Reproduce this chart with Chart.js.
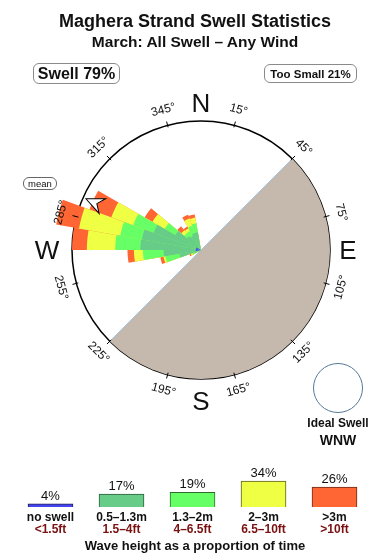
<!DOCTYPE html>
<html>
<head>
<meta charset="utf-8">
<script src="https://cdn.jsdelivr.net/npm/chart.js@4.4.1/dist/chart.umd.min.js"></script>
<style>
  body { margin: 0; background: #fff; font-family: "Liberation Sans", Arial, Helvetica, sans-serif; color: #111; }
  #wrap { position: relative; width: 390px; height: 560px; overflow: hidden; }
  canvas { position: absolute; left: 0; }
  #rose { top: 0; }
  #legendChart { top: 458px; }
  .line { position: absolute; left: 0; width: 390px; text-align: center; font-weight: bold; white-space: nowrap; }
  .box { position: absolute; display: flex; align-items: center; justify-content: center;
         border: 1px solid #8a8a8a; border-radius: 6px; font-weight: bold; box-sizing: border-box; white-space: nowrap; }
  #ideal { position: absolute; left: 313px; top: 363px; width: 50px; height: 50px; box-sizing: border-box;
           border: 1px solid #557799; border-radius: 50%; }
  .ideal { position: absolute; left: 288px; width: 100px; text-align: center; font-weight: bold; }
</style>
</head>
<body>
<div id="wrap">
  <canvas id="rose" width="390" height="560"></canvas>
  <canvas id="legendChart" width="390" height="82"></canvas>

  <div class="line" style="top:12px;font-size:18px;line-height:18px;">Maghera Strand Swell Statistics</div>
  <div class="line" style="top:34px;font-size:15.5px;line-height:16px;">March: All Swell – Any Wind</div>

  <div class="box" style="left:33px;top:63px;width:87px;height:21px;font-size:16px;">Swell 79%</div>
  <div class="box" style="left:264px;top:64px;width:93px;height:19px;font-size:11.5px;">Too Small 21%</div>
  <div class="box" style="left:23px;top:177px;width:34px;height:13px;font-size:9.5px;font-weight:normal;border-color:#666;">mean</div>

  <div id="ideal"></div>
  <div class="ideal" style="top:416px;font-size:12px;line-height:14px;">Ideal Swell</div>
  <div class="ideal" style="top:432px;font-size:14px;line-height:16px;">WNW</div>

  <div class="line" style="top:539px;font-size:13px;line-height:14px;">Wave height as a proportion of time</div>
</div>

<script>
// swell rose: direction bins (compass degrees, start of each 10 degree bin)
const directions = [240, 250, 260, 270, 280, 290, 300, 310, 320, 330, 340];
// frequency per height band in each direction (rose units, outer circle = 10)
const noSwell   = [0,    0,    0.4,  0.4,  0.4,  0.4,  0,    0,    0,    0,    0];
const band05_13 = [0.5,  1.7,  2.9,  4.7,  4.65, 3.9,  2.3,  1.4,  1.25, 1.4,  1.4];
const band13_2  = [0.2,  1.1,  1.6,  1.95, 1.7,  1.7,  0.95, 0.3,  0.45, 0.6,  0.7];
const band2_3   = [0.15, 0.15, 0.7,  2.2,  3.25, 1.8,  1.1,  0.3,  0.25, 0.6,  0.45];
const band3up   = [0.1,  0.25, 0.5,  1.15, 1.8,  1.8,  0.7,  0.4,  0.15, 0.3,  0.25];
const meanDirection = 294;
const roseMax = 10;

// compass ticks and land sector
const tickDegrees = [15, 45, 75, 105, 135, 165, 195, 225, 255, 285, 315, 345];
const compassPoints = ['N', 'E', 'S', 'W'];
const compassGap = [18, 18, 22, 25];
const landFrom = 45, landTo = 225;

// legend (wave height as proportion of time)
const legendPercent = [4, 17, 19, 34, 26];
const legendMetres = ['no swell', '0.5–1.3m', '1.3–2m', '2–3m', '>3m'];
const legendFeet = ['<1.5ft', '1.5–4ft', '4–6.5ft', '6.5–10ft', '>10ft'];

const colours = ['#4444ee', '#66cc88', '#66ff66', '#eeff44', '#ff6633'];
const borders = ['#222255', '#2d5e3c', '#2e6a2e', '#5c5c20', '#6a2a14'];
const FONT = '"Liberation Sans", Arial, Helvetica, sans-serif';

// 36 bins of 10 degrees, bin 0 starts at north
const binLabels = [];
for (let d = 0; d < 360; d += 10) binLabels.push(d + '°');

function toBins(values) {
    const out = binLabels.map(() => 0);
    directions.forEach((d, i) => { out[d / 10] = values[i]; });
    return out;
}

// cumulative radius so bands stack outward
const bands = [band05_13, band13_2, band2_3, band3up];
const stacked = [];
let running = directions.map(() => 0);
bands.forEach(b => {
    running = running.map((v, i) => v + b[i]);
    stacked.push(running.slice());
});

const rad = deg => (deg - 90) * Math.PI / 180;

const roseExtras = {
    id: 'roseExtras',
    beforeDatasetsDraw(chart) {
        const s = chart.scales.r;
        const ctx = chart.ctx;
        const cx = s.xCenter, cy = s.yCenter, R = s.drawingArea;
        ctx.save();
        ctx.beginPath();
        ctx.moveTo(cx, cy);
        ctx.arc(cx, cy, R, rad(landFrom), rad(landTo));
        ctx.closePath();
        ctx.fillStyle = '#c4b9ac';
        ctx.fill();
        ctx.beginPath();
        ctx.moveTo(cx + R * Math.cos(rad(landFrom)), cy + R * Math.sin(rad(landFrom)));
        ctx.lineTo(cx + R * Math.cos(rad(landTo)), cy + R * Math.sin(rad(landTo)));
        ctx.strokeStyle = '#a6c6e4';
        ctx.lineWidth = 1;
        ctx.stroke();
        ctx.restore();
    },
    afterDraw(chart) {
        const s = chart.scales.r;
        const ctx = chart.ctx;
        const cx = s.xCenter, cy = s.yCenter, R = s.drawingArea;
        ctx.save();

        // mean direction arrow
        ctx.save();
        ctx.translate(cx + (R - 3) * Math.cos(rad(meanDirection)), cy + (R - 3) * Math.sin(rad(meanDirection)));
        ctx.rotate(rad(meanDirection));
        ctx.beginPath();
        ctx.moveTo(0, 0);
        ctx.lineTo(-18, -8);
        ctx.lineTo(-12, 0);
        ctx.lineTo(-18, 8);
        ctx.closePath();
        ctx.fillStyle = '#fff';
        ctx.fill();
        ctx.strokeStyle = '#000';
        ctx.lineWidth = 1;
        ctx.stroke();
        ctx.restore();

        // degree ticks and labels
        ctx.strokeStyle = '#000';
        ctx.lineWidth = 1;
        ctx.fillStyle = '#111';
        ctx.textAlign = 'center';
        ctx.textBaseline = 'middle';
        ctx.font = '12px ' + FONT;
        tickDegrees.forEach(d => {
            const a = rad(d), c = Math.cos(a), sn = Math.sin(a);
            ctx.beginPath();
            ctx.moveTo(cx + (R - 2) * c, cy + (R - 2) * sn);
            ctx.lineTo(cx + (R + 4) * c, cy + (R + 4) * sn);
            ctx.stroke();
            const rot = (d <= 90 || d >= 270) ? d : d - 180;
            ctx.save();
            ctx.translate(cx + (R + 16) * c, cy + (R + 16) * sn);
            ctx.rotate(rot * Math.PI / 180);
            ctx.fillText(d + '°', 0, 0);
            ctx.restore();
        });

        // compass letters
        ctx.font = '26px ' + FONT;
        compassPoints.forEach((p, i) => {
            const a = rad(i * 90);
            const g = R + compassGap[i];
            ctx.fillText(p, cx + g * Math.cos(a), cy + g * Math.sin(a) + 2);
        });
        ctx.restore();
    }
};

new Chart(document.getElementById('rose'), {
    type: 'polarArea',
    data: {
        labels: binLabels,
        datasets: [
            { label: 'no swell', data: toBins(noSwell), backgroundColor: colours[0] },
            { label: '0.5–1.3m', data: toBins(stacked[0]), backgroundColor: colours[1] },
            { label: '1.3–2m', data: toBins(stacked[1]), backgroundColor: colours[2] },
            { label: '2–3m', data: toBins(stacked[2]), backgroundColor: colours[3] },
            { label: '>3m', data: toBins(stacked[3]), backgroundColor: colours[4] }
        ]
    },
    options: {
        responsive: false,
        animation: false,
        events: [],
        layout: { padding: { left: 72, top: 121, right: 60, bottom: 181 } },
        elements: { arc: { borderWidth: 0 } },
        plugins: { legend: { display: false }, tooltip: { enabled: false } },
        scales: {
            r: {
                z: 1,
                min: 0,
                max: roseMax,
                startAngle: 0,
                ticks: { display: false, stepSize: roseMax },
                angleLines: { display: false },
                pointLabels: { display: false },
                grid: { circular: true, color: '#000', lineWidth: 1.5 }
            }
        }
    },
    plugins: [roseExtras]
});

const legendLabels = {
    id: 'legendLabels',
    afterDatasetsDraw(chart) {
        const ctx = chart.ctx;
        const meta = chart.getDatasetMeta(0);
        ctx.save();
        ctx.textAlign = 'center';
        ctx.textBaseline = 'middle';
        meta.data.forEach((bar, i) => {
            ctx.fillStyle = '#111';
            ctx.font = '13px ' + FONT;
            ctx.fillText(legendPercent[i] + '%', bar.x, bar.y - 8);
            ctx.font = 'bold 12px ' + FONT;
            ctx.fillText(legendMetres[i], bar.x, bar.base + 11);
            ctx.fillStyle = '#7a1010';
            ctx.fillText(legendFeet[i], bar.x, bar.base + 23);
        });
        ctx.restore();
    }
};

new Chart(document.getElementById('legendChart'), {
    type: 'bar',
    data: {
        labels: legendMetres,
        datasets: [{
            data: legendPercent,
            backgroundColor: colours,
            borderColor: borders,
            borderWidth: 1,
            barThickness: 45
        }]
    },
    options: {
        responsive: false,
        animation: false,
        events: [],
        layout: { padding: { left: 15, right: 20, top: 0, bottom: 33 } },
        plugins: { legend: { display: false }, tooltip: { enabled: false } },
        scales: {
            x: { display: false },
            y: { display: false, min: 0, max: 64 }
        }
    },
    plugins: [legendLabels]
});
</script>
</body>
</html>
